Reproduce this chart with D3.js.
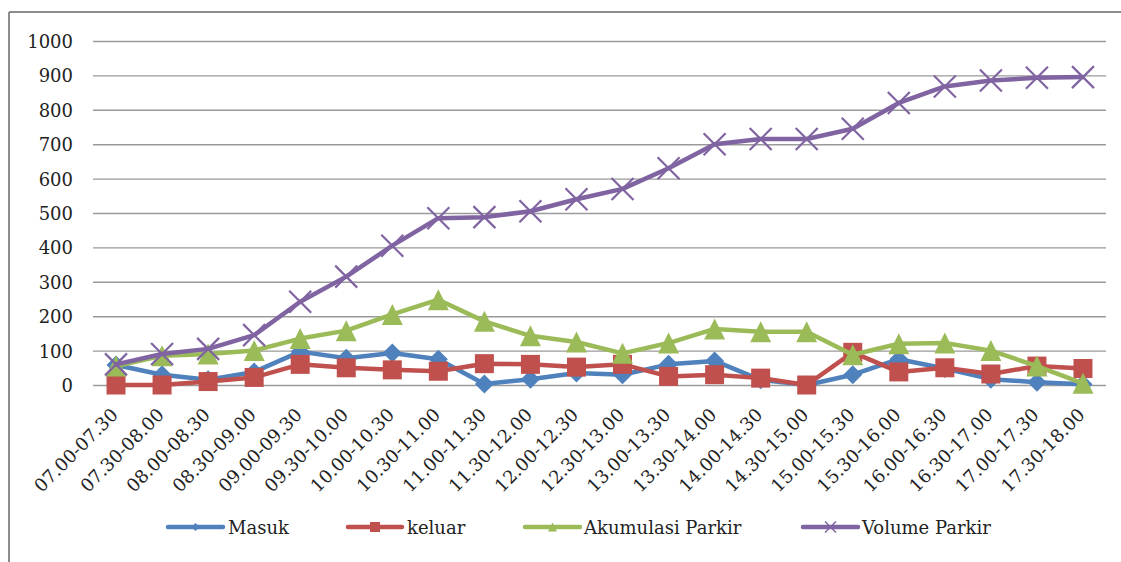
<!DOCTYPE html>
<html>
<head>
<meta charset="utf-8">
<script src="https://cdn.jsdelivr.net/npm/d3@7"></script>
<style>
  html, body { margin: 0; padding: 0; background: #fff; }
  svg { display: block; }
  text { font-family: "DejaVu Serif", "Liberation Serif", serif; }
</style>
</head>
<body>
<svg id="chart" width="1121" height="562"></svg>
<script>
const categories = ["07.00-07.30","07.30-08.00","08.00-08.30","08.30-09.00","09.00-09.30","09.30-10.00",
  "10.00-10.30","10.30-11.00","11.00-11.30","11.30-12.00","12.00-12.30","12.30-13.00","13.00-13.30",
  "13.30-14.00","14.00-14.30","14.30-15.00","15.00-15.30","15.30-16.00","16.00-16.30","16.30-17.00",
  "17.00-17.30","17.30-18.00"];
const masuk      = [58, 30, 15, 38, 97, 78, 93, 75, 3, 17, 35, 30, 60, 70, 15, 0, 30, 75, 48, 17, 8, 2];
const keluar     = [0, 0, 10, 22, 60, 50, 44, 40, 62, 60, 52, 60, 25, 30, 20, 0, 95, 38, 50, 32, 55, 48];
const akumulasi  = [55, 85, 90, 100, 135, 158, 205, 248, 185, 143, 125, 92, 122, 163, 155, 155, 88, 120, 122, 100, 55, 5];
const volume     = [60, 90, 105, 145, 242, 315, 405, 485, 488, 505, 540, 570, 630, 700, 715, 715, 745, 820, 868, 885, 893, 895];
const yTicks     = [0, 100, 200, 300, 400, 500, 600, 700, 800, 900, 1000];
const seriesNames = ["Masuk", "keluar", "Akumulasi Parkir", "Volume Parkir"];

const colors = ["#4F81BD", "#C0504D", "#9BBB59", "#8064A2"];
const markers = ["diamond", "square", "triangle", "x"];
const seriesData = [masuk, keluar, akumulasi, volume];

const svg = d3.select("#chart");
const plotLeft = 93, plotRight = 1106, plotTop = 41, plotBottom = 385;

// frame
svg.append("line").attr("x1", 9).attr("x2", 1121).attr("y1", 12).attr("y2", 12)
  .attr("stroke", "#8c8c8c").attr("stroke-width", 2);
svg.append("line").attr("x1", 9).attr("x2", 9).attr("y1", 12).attr("y2", 562)
  .attr("stroke", "#8c8c8c").attr("stroke-width", 2);

const x = d3.scaleBand().domain(categories).range([plotLeft, plotRight]).paddingInner(0).paddingOuter(0);
const y = d3.scaleLinear().domain([0, 1000]).range([plotBottom, plotTop]);
const cx = c => x(c) + x.bandwidth() / 2;

// y axis with gridlines
const yAxis = svg.append("g").attr("transform", `translate(${plotLeft},0)`)
  .call(d3.axisLeft(y).tickValues(yTicks).tickSize(-(plotRight - plotLeft)).tickPadding(20).tickFormat(d3.format("d")));
yAxis.select(".domain").remove();
yAxis.selectAll(".tick line").attr("stroke", "#9a9a9a").attr("stroke-width", 1.4);
yAxis.selectAll(".tick text").attr("font-size", 18).attr("fill", "#222")
  .attr("font-family", "DejaVu Serif, Liberation Serif, serif").attr("dy", "0.36em");

// x axis
const xAxis = svg.append("g").attr("transform", `translate(0,${plotBottom})`)
  .call(d3.axisBottom(x).tickSize(0));
xAxis.select(".domain").remove();
xAxis.selectAll(".tick text")
  .attr("font-size", 18).attr("fill", "#222")
  .attr("font-family", "DejaVu Serif, Liberation Serif, serif")
  .attr("x", 3).attr("y", 31).attr("dy", null)
  .attr("text-anchor", "end")
  .attr("transform", "rotate(-45, 3, 31)");

function markerPath(type, s) {
  const h = s / 2;
  if (type === "diamond") return `M0,${-h}L${h},0L0,${h}L${-h},0Z`;
  if (type === "square") return `M${-h},${-h}H${h}V${h}H${-h}Z`;
  if (type === "triangle") return `M0,${-h}L${h},${h}L${-h},${h}Z`;
  return `M${-h},${-h}L${h},${h}M${h},${-h}L${-h},${h}`;
}
const markerSize = [19, 19, 21, 22];

const line = d3.line().x((d, i) => cx(categories[i])).y(d => y(d));

seriesData.forEach((vals, si) => {
  const g = svg.append("g");
  g.append("path").datum(vals).attr("d", line)
    .attr("fill", "none").attr("stroke", colors[si]).attr("stroke-width", 4.5)
    .attr("stroke-linejoin", "round").attr("stroke-linecap", "round");
  g.selectAll("path.m").data(vals).join("path").attr("class", "m")
    .attr("transform", (d, i) => `translate(${cx(categories[i])},${y(d)})`)
    .attr("d", markerPath(markers[si], markerSize[si]))
    .attr("fill", markers[si] === "x" ? "none" : colors[si])
    .attr("stroke", colors[si])
    .attr("stroke-width", markers[si] === "x" ? 2.2 : 0);
});

// legend
const legendItems = [
  { x1: 168, x2: 223, tx: 228 },
  { x1: 348, x2: 402, tx: 407 },
  { x1: 525, x2: 580, tx: 584 },
  { x1: 803, x2: 858, tx: 862 }
];
const ly = 527;
const lg = svg.append("g");
legendItems.forEach((it, i) => {
  lg.append("line").attr("x1", it.x1).attr("x2", it.x2).attr("y1", ly).attr("y2", ly)
    .attr("stroke", colors[i]).attr("stroke-width", 4.5).attr("stroke-linecap", "round");
  const ms = [8, 10, 9, 11][i];
  lg.append("path").attr("transform", `translate(${(it.x1 + it.x2) / 2},${ly})`)
    .attr("d", markerPath(markers[i], ms))
    .attr("fill", markers[i] === "x" ? "none" : colors[i])
    .attr("stroke", colors[i]).attr("stroke-width", markers[i] === "x" ? 1.5 : 0);
  lg.append("text").attr("x", it.tx).attr("y", ly + 7).attr("font-size", 18).attr("fill", "#222")
    .text(seriesNames[i]);
});
</script>
</body>
</html>
